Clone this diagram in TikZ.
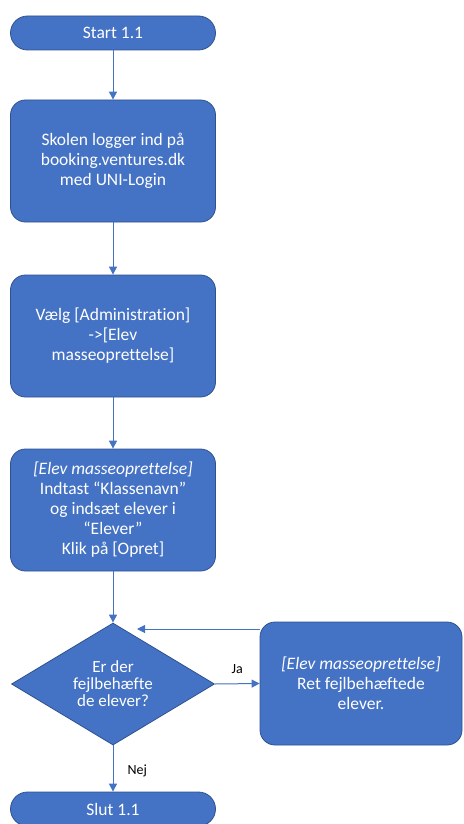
\documentclass[tikz,border=0pt]{standalone}
\usepackage{fontspec}
\setmainfont{Carlito}[Ligatures={NoCommon}]
\usetikzlibrary{shapes.geometric,arrows.meta}
\definecolor{fillblue}{HTML}{4472C4}
\definecolor{edgeblue}{HTML}{2F528F}
\tikzset{
  box/.style={draw=edgeblue,line width=0.8pt,fill=fillblue,rounded corners=15pt,minimum width=205pt,minimum height=122pt,text=white,align=center,inner sep=0pt,font=\fontsize{17.5pt}{20pt}\selectfont},
  term/.style={draw=edgeblue,line width=0.8pt,fill=fillblue,rounded corners=17pt,minimum width=205pt,minimum height=34pt,text=white,align=center,inner sep=0pt,font=\fontsize{17.5pt}{20pt}\selectfont},
  decision/.style={draw=edgeblue,line width=0.8pt,fill=fillblue,shape=diamond,aspect=1.66,minimum width=203pt,minimum height=122pt,text=white,align=center,inner sep=0pt,font=\fontsize{17pt}{17pt}\selectfont},
  arr/.style={draw=fillblue,line width=1pt,-{Triangle[length=8pt,width=8pt]}},
  lbl/.style={text=black,font=\fontsize{14pt}{16pt}\selectfont,inner sep=0pt}
}
\begin{document}
\begin{tikzpicture}[x=1pt,y=-1pt]
\useasboundingbox (0,0) rectangle (463,824);
\node[term] (start) at (113,33) {Start 1.1};
\node[box] (b1) at (113,161) {Skolen logger ind på\\booking.ventures.dk\\med UNI-Login};
\node[box] (b2) at (113,336) {Vælg [Administration]\\->[Elev\\masseoprettelse]};
\node[box] (b3) at (113,510) {\textit{[Elev masseoprettelse]}\\Indtast “Klassenavn”\\og indsæt elever i\\“Elever”\\Klik på [Opret]};
\node[decision] (dec) at (113,684) {Er der\\fejlbehæfte\\de elever?};
\node[box,minimum width=202pt,minimum height=123pt] (fix) at (361,683.5) {\textit{[Elev masseoprettelse]}\\Ret fejlbehæftede\\elever.};
\node[term] (slut) at (113,809) {Slut 1.1};
\coordinate (back) at (137,629);
\draw[arr] (start) -- (b1);
\draw[arr] (b1) -- (b2);
\draw[arr] (b2) -- (b3);
\draw[arr] (b3) -- (dec);
\draw[arr] (dec.east) -- node[lbl,above=10pt,pos=0.5] (ja) {Ja} (fix.west);
\draw[arr] (fix.west |- back) -- (back);
\draw[arr] (dec.south) -- node[lbl,right=14pt,pos=0.55] (nej) {Nej} (slut.north);
\end{tikzpicture}
\end{document}
